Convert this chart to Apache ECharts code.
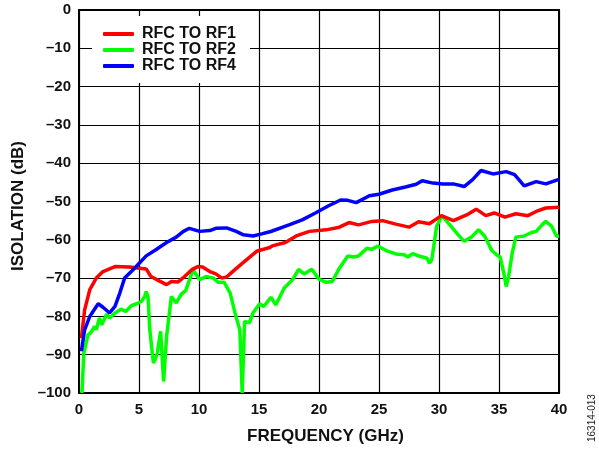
<!DOCTYPE html>
<html>
<head>
<meta charset="utf-8">
<script src="https://cdn.jsdelivr.net/npm/echarts@6/dist/echarts.min.js"></script>
<style>
html,body{margin:0;padding:0;background:#fff;}
#chart{width:599px;height:450px;}
</style>
</head>
<body>
<div id="chart"></div>
<script>
// ---- data ----
const seriesNames = ['RFC TO RF1', 'RFC TO RF2', 'RFC TO RF4'];
const xTicks = [0, 5, 10, 15, 20, 25, 30, 35, 40];
const yTicks = [0, -10, -20, -30, -40, -50, -60, -70, -80, -90, -100];

const rf1Freq = [0.2, 0.47, 0.9, 1.44, 2, 3, 4.2, 5.05, 5.6, 6, 6.6, 7.3, 7.7, 8.25, 8.8, 9.4, 9.9, 10.3, 10.9, 11.4, 11.9, 12.3, 12.8, 13.7, 14.8, 15.9,
  16.1, 17.2, 18.1, 19.2, 20.6, 21.7, 22.5, 23.3, 24.4, 25.3, 26.4, 27.5, 28.3, 29.2, 30.2, 31.2, 32.3, 33.1, 33.9, 34.6, 35.5, 36.4, 37.4, 38.1, 38.9, 40];
const rf1Db = [-85.7, -78.3, -73, -70, -68.3, -67, -67.1, -67.4, -67.6, -69.6, -70.6, -71.7, -70.9, -71, -69.6, -67.8, -67, -67.1, -68.3, -68.9, -70, -69.7, -68.3, -65.9, -63, -62,
  -61.6, -60.7, -59, -57.8, -57.4, -56.7, -55.5, -56.1, -55.2, -55, -55.9, -56.7, -55.3, -55.8, -53.7, -55, -53.5, -52, -53.7, -53, -54.1, -53.2, -53.7, -52.6, -51.7, -51.5];

const rf2Freq = [0.25, 0.4, 0.75, 1.0, 1.3, 1.44, 1.7, 1.9, 2.3, 2.55, 3, 3.5, 3.9, 4.36, 4.8, 5.2, 5.47, 5.6, 5.75, 5.9, 6.2, 6.5, 6.8, 7.05, 7.3, 7.7, 8.1, 8.5, 8.9, 9.5, 10.05, 10.6, 11.2, 11.6, 12.1, 12.6, 13, 13.4, 13.6, 13.8, 14.2, 14.5, 15.05, 15.4, 16, 16.4, 17.1, 17.8, 18.3, 18.75, 19.4, 20, 20.6, 21.1, 21.7, 22.4, 22.9, 23.3, 24, 24.4, 24.9, 25.6, 26.4, 27.1, 27.4, 27.8, 28.4, 29, 29.2, 29.4, 29.8, 30.25, 30.9, 31.6, 32.1, 32.7, 33.3, 33.8, 34.4, 34.8, 35.1, 35.4, 35.6, 35.8, 36.1, 36.4, 37.1, 37.7, 38.1, 38.7, 38.9, 39.4, 39.8, 40];
const rf2Db = [-100, -89.6, -84.8, -84.2, -82.6, -83.5, -80.4, -82.2, -79.4, -80.4, -79.1, -78.1, -78.7, -77.2, -76.7, -76.1, -74.8, -73.5, -74.8, -83.5, -92.2, -90, -83.9, -97, -85.2, -74.8, -76.5, -74.3, -73.2, -67.8, -70.4, -69.6, -70, -71.1, -71.1, -73.9, -79.1, -83.5, -100, -81.3, -81.7, -79.1, -76.7, -77.4, -75, -77, -72.6, -70.4, -67.7, -68.9, -67.7, -70.3, -71.1, -70.9, -67.4, -64.2, -64.5, -64.2, -62.2, -62.5, -61.6, -62.8, -63.7, -63.9, -64.5, -63.6, -64.3, -64.8, -66.1, -65.2, -56.5, -53.7, -56.1, -58.7, -60.4, -59.3, -57.4, -59, -62.8, -63.9, -64.5, -68.7, -72.2, -69.6, -63.5, -59.3, -59, -58.1, -57.8, -55.7, -55.2, -56.5, -59.1, -59];

const rf4Freq = [0.2, 0.47, 0.9, 1.17, 1.6, 2, 2.55, 3, 3.4, 3.8, 4.36, 4.9, 5.6, 6.4, 7.3, 8.1, 8.7, 9.2, 10.05, 10.9, 11.4, 12.3, 13.1, 13.7, 14.5, 15.3, 15.9, 16.1, 17.5, 18.6, 19.7, 20.8, 21.8, 22.4, 23.1, 24.2, 25, 26.1, 27.2, 28.1, 28.6, 29.5, 30.3, 31.2, 32.1, 32.8, 33.5, 34.5, 35.6, 36.3, 37.1, 38.1, 38.9, 40];
const rf4Db = [-89.1, -83.5, -80, -78.7, -76.7, -77.6, -79.1, -77.4, -73.9, -70, -68.3, -66.5, -64.2, -62.6, -60.7, -59.3, -57.8, -57, -57.8, -57.6, -57, -56.9, -57.8, -58.7, -59, -58.4, -57.9, -57.7, -56.1, -54.8, -53, -51.1, -49.6, -49.7, -50.3, -48.5, -48.1, -47, -46.2, -45.5, -44.6, -45.2, -45.4, -45.4, -46.1, -44.3, -41.9, -42.8, -42.2, -43, -45.9, -44.8, -45.4, -44.2];

const colors = ['#ff0000', '#00ff00', '#0000ff'];

function zip(xs, ys) { return xs.map((x, i) => [x, ys[i]]); }

const chart = echarts.init(document.getElementById('chart'));
const FONT = 'Liberation Sans, Arial, sans-serif';
const dash = v => String(v).replace('-', '\u2013');
const TXT = '#111';

chart.setOption({
  animation: false,
  backgroundColor: '#fff',
  grid: { left: 79, right: 40, top: 10, bottom: 57, show: true, borderColor: '#000', borderWidth: 2 },
  legend: {
    orient: 'vertical',
    left: 92, top: 16,
    padding: [10, 14, 9, 11],
    itemGap: 0,
    itemWidth: 31, itemHeight: 4,
    icon: 'roundRect',
    backgroundColor: '#fff',
    textStyle: { fontFamily: FONT, fontWeight: 'bold', fontSize: 16, lineHeight: 15, color: TXT, padding: [0, 0, 0, 3] },
    data: seriesNames
  },
  xAxis: {
    type: 'value', min: 0, max: 40, interval: 5,
    name: 'FREQUENCY (GHz)', nameLocation: 'middle', nameGap: 35,
    nameTextStyle: { fontFamily: FONT, fontWeight: 'bold', fontSize: 17, color: TXT, padding: [0, 0, 0, 13] },
    axisLine: { lineStyle: { color: '#000', width: 2 } },
    axisTick: { show: false },
    axisLabel: { fontFamily: FONT, fontWeight: 'bold', fontSize: 15, color: TXT, margin: 9,
      formatter: v => xTicks.includes(v) ? String(v) : '' },
    splitLine: { show: true, lineStyle: { color: '#000', width: 1.2 } }
  },
  yAxis: {
    type: 'value', min: -100, max: 0, interval: 10,
    name: 'ISOLATION (dB)', nameLocation: 'middle', nameGap: 52,
    nameTextStyle: { fontFamily: FONT, fontWeight: 'bold', fontSize: 17, color: TXT, padding: [0, 9, 0, 0] },
    axisLine: { lineStyle: { color: '#000', width: 2 } },
    axisTick: { show: false },
    axisLabel: { fontFamily: FONT, fontWeight: 'bold', fontSize: 15, color: TXT, margin: 8,
      formatter: v => yTicks.includes(v) ? dash(v) : '' },
    splitLine: { show: true, lineStyle: { color: '#000', width: 1.2 } }
  },
  graphic: [{
    type: 'text', x: 587, y: 442, rotation: Math.PI / 2,
    style: { text: '16314-013', fontFamily: FONT, fontSize: 10, fill: '#222', textAlign: 'left', textVerticalAlign: 'top' }
  }],
  series: [
    { name: seriesNames[0], type: 'line', data: zip(rf1Freq, rf1Db), showSymbol: false, symbol: 'none', color: colors[0], lineStyle: { width: 3.5, color: colors[0] }, z: 3 },
    { name: seriesNames[1], type: 'line', data: zip(rf2Freq, rf2Db), showSymbol: false, symbol: 'none', color: colors[1], lineStyle: { width: 3.5, color: colors[1] }, z: 2 },
    { name: seriesNames[2], type: 'line', data: zip(rf4Freq, rf4Db), showSymbol: false, symbol: 'none', color: colors[2], lineStyle: { width: 3.5, color: colors[2] }, z: 4 }
  ]
});
</script>
</body>
</html>
